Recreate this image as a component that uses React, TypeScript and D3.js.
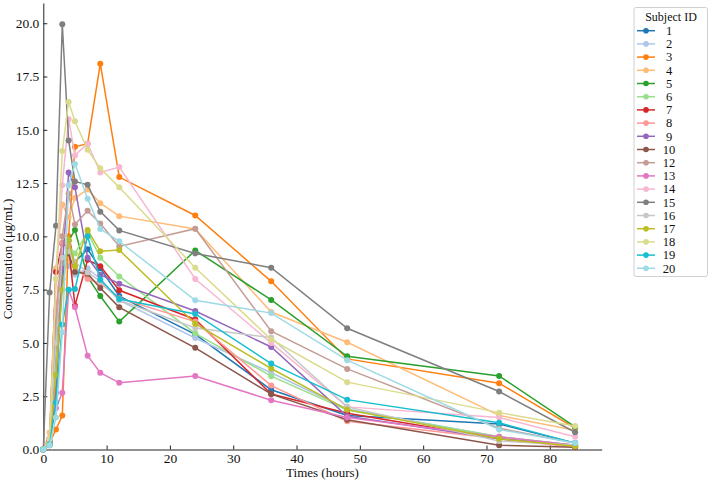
import { useEffect, useRef } from 'react';
import * as d3 from 'd3';

// sampling times (hours)
const times = [0, 1, 2, 3, 4, 5, 7, 9, 12, 24, 36, 48, 72, 84];

const subjectIds = ['1', '2', '3', '4', '5', '6', '7', '8', '9', '10', '12', '13', '14', '15', '16', '17', '18', '19', '20'];

// tab20 colours, one per subject
const subjectColors = [
  '#1f77b4', '#aec7e8', '#ff7f0e', '#ffbb78', '#2ca02c', '#98df8a', '#d62728', '#ff9896',
  '#9467bd', '#8c564b', '#c49c94', '#e377c2', '#f7b6d2', '#7f7f7f', '#c7c7c7', '#bcbd22',
  '#dbdb8d', '#17becf', '#9edae5',
];

// concentrations (µg/mL) per subject, same order as times
const s1 = [0, 0.3, 3.0, 8.0, 9.5, 8.8, 9.4, 8.5, 7.2, 5.4, 2.8, 1.6, 1.2, 0.3];
const s2 = [0, 0.5, 4.5, 9.0, 8.6, 8.2, 8.5, 8.0, 7.0, 5.23, 3.6, 1.9, 0.6, 0.2];
const s3 = [0, 0.3, 0.94, 1.59, 10.0, 14.2, 14.35, 18.1, 12.78, 10.98, 7.89, 4.25, 3.11, 1.0];
const s4 = [0, 0.8, 8.5, 11.5, 10.9, 11.8, 12.2, 11.56, 10.95, 10.35, 6.45, 5.03, 1.6, 0.9];
const s5 = [0, 0.2, 3.5, 8.5, 9.8, 10.3, 8.1, 7.2, 6.0, 9.34, 7.02, 4.37, 3.45, 1.06];
const s6 = [0, 0.3, 4.0, 8.5, 9.6, 9.2, 10.2, 9.0, 8.12, 5.45, 3.44, 1.85, 0.6, 0.2];
const s7 = [0, 0.4, 8.33, 9.66, 9.5, 6.75, 8.9, 8.6, 7.47, 6.1, 2.6, 1.7, 0.5, 0.15];
const s8 = [0, 0.5, 6.5, 9.7, 9.6, 8.6, 8.0, 7.8, 7.1, 6.0, 3.0, 1.33, 0.5, 0.1];
const s9 = [0, 0.3, 2.66, 8.5, 13.0, 12.3, 9.0, 8.2, 7.78, 6.5, 4.81, 1.56, 0.5, 0.2];
const s10 = [0, 0.3, 5.0, 9.0, 9.2, 8.33, 8.25, 7.58, 6.67, 4.77, 2.6, 1.4, 0.2, 0.1];
const s12 = [0, 0.5, 6.0, 10.0, 12.0, 10.56, 11.2, 10.6, 9.53, 10.36, 5.55, 3.78, 1.0, 0.3];
const s13 = [0, 0.5, 1.95, 2.66, 7.5, 6.67, 4.4, 3.6, 3.13, 3.45, 2.31, 1.5, 0.6, 0.2];
const s14 = [0, 0.5, 8.0, 12.4, 15.5, 13.8, 14.35, 13.0, 13.25, 8.0, 5.0, 2.0, 1.5, 0.6];
const s15 = [0, 7.37, 10.5, 19.95, 14.5, 12.58, 12.42, 11.16, 10.28, 9.2, 8.53, 5.69, 2.72, 0.81];
const s16 = [0, 0.3, 5.0, 9.0, 9.3, 8.8, 8.3, 7.9, 7.0, 5.7, 5.25, 2.0, 0.4, 0.2];
const s17 = [0, 0.2, 3.5, 7.5, 9.85, 8.6, 10.3, 9.3, 9.36, 5.9, 3.8, 1.87, 0.5, 0.15];
const s18 = [0, 0.5, 8.0, 14.0, 16.3, 15.4, 14.06, 13.2, 12.3, 8.53, 5.16, 3.16, 1.73, 1.1];
const s19 = [0, 0.25, 2.2, 5.86, 7.5, 7.53, 10.0, 7.97, 7.06, 6.36, 4.03, 2.34, 1.25, 0.3];
const s20 = [0, 0.2, 1.5, 5.5, 12.4, 13.4, 11.77, 10.35, 9.77, 7.0, 6.4, 4.19, 0.94, 0.3];

const seriesValues = [s1, s2, s3, s4, s5, s6, s7, s8, s9, s10, s12, s13, s14, s15, s16, s17, s18, s19, s20];

const xTicks = [0, 10, 20, 30, 40, 50, 60, 70, 80];
const yTicks = [0, 2.5, 5, 7.5, 10, 12.5, 15, 17.5, 20];

const FONT = '"Liberation Serif", "Times New Roman", serif';

export default function App() {
  const svgRef = useRef<SVGSVGElement>(null);

  useEffect(() => {
    if (!svgRef.current) return;
    document.body.style.margin = '0';

    const width = 713;
    const height = 484;

    const svg = d3.select(svgRef.current);
    svg.selectAll('*').remove();
    svg.attr('width', width).attr('height', height);

    const x = d3.scaleLinear().domain([0, 88.2]).range([43.3, 601.7]);
    const y = d3.scaleLinear().domain([0, 20.95]).range([449.5, 3]);

    // axes (inward ticks, only left + bottom spines)
    const xAxis = svg
      .append('g')
      .attr('transform', `translate(0,${y(0)})`)
      .call(d3.axisBottom(x).tickValues(xTicks).tickSizeInner(-4).tickSizeOuter(0).tickPadding(4).tickFormat(d3.format('d')));
    const yAxis = svg
      .append('g')
      .attr('transform', `translate(${x(0)},0)`)
      .call(d3.axisLeft(y).tickValues(yTicks).tickSizeInner(-4).tickSizeOuter(0).tickPadding(4).tickFormat(d3.format('.1f')));

    [xAxis, yAxis].forEach((ax) => {
      ax.select('.domain').attr('stroke', '#222').attr('stroke-width', 1);
      ax.selectAll('.tick line').attr('stroke', '#222');
      ax.selectAll('.tick text').attr('fill', '#111').attr('font-size', 13.5).attr('font-family', FONT);
    });

    // lines
    const line = d3
      .line<number>()
      .x((_, i) => x(times[i]))
      .y((d) => y(d));

    seriesValues.forEach((vals, k) => {
      const g = svg.append('g');
      g.append('path')
        .attr('d', line(vals))
        .attr('fill', 'none')
        .attr('stroke', subjectColors[k])
        .attr('stroke-width', 1.5);
      g.selectAll('circle')
        .data(vals)
        .enter()
        .append('circle')
        .attr('cx', (_, i) => x(times[i]))
        .attr('cy', (d) => y(d))
        .attr('r', 3)
        .attr('fill', subjectColors[k]);
    });

    // axis labels
    svg.append('text')
      .attr('x', (x(0) + x(88.2)) / 2)
      .attr('y', 477)
      .attr('text-anchor', 'middle')
      .attr('font-size', 13)
      .attr('font-family', FONT)
      .attr('fill', '#111')
      .text('Times (hours)');

    svg.append('text')
      .attr('transform', 'translate(12,259) rotate(-90)')
      .attr('text-anchor', 'middle')
      .attr('font-size', 13)
      .attr('font-family', FONT)
      .attr('fill', '#111')
      .text('Concentration (μg/mL)');

    // legend
    const legend = svg.append('g');
    legend.append('rect')
      .attr('x', 634)
      .attr('y', 7.5)
      .attr('width', 73.5)
      .attr('height', 269)
      .attr('rx', 2)
      .attr('fill', '#fff')
      .attr('stroke', '#d0d0d0')
      .attr('stroke-width', 1);

    legend.append('text')
      .attr('x', 671)
      .attr('y', 21)
      .attr('text-anchor', 'middle')
      .attr('font-size', 12)
      .attr('font-family', FONT)
      .attr('fill', '#111')
      .text('Subject ID');

    subjectIds.forEach((id, k) => {
      const ly = 30.7 + k * 13.2;
      legend.append('line')
        .attr('x1', 637)
        .attr('x2', 655)
        .attr('y1', ly)
        .attr('y2', ly)
        .attr('stroke', subjectColors[k])
        .attr('stroke-width', 1.5);
      legend.append('circle')
        .attr('cx', 646)
        .attr('cy', ly)
        .attr('r', 2.8)
        .attr('fill', subjectColors[k]);
      legend.append('text')
        .attr('x', 669)
        .attr('y', ly + 4.3)
        .attr('text-anchor', 'middle')
        .attr('font-size', 12.5)
        .attr('font-family', FONT)
        .attr('fill', '#111')
        .text(id);
    });
  }, []);

  return (
    <svg ref={svgRef} style={{ position: 'absolute', left: 0, top: 0, background: '#fff' }} />
  );
}
